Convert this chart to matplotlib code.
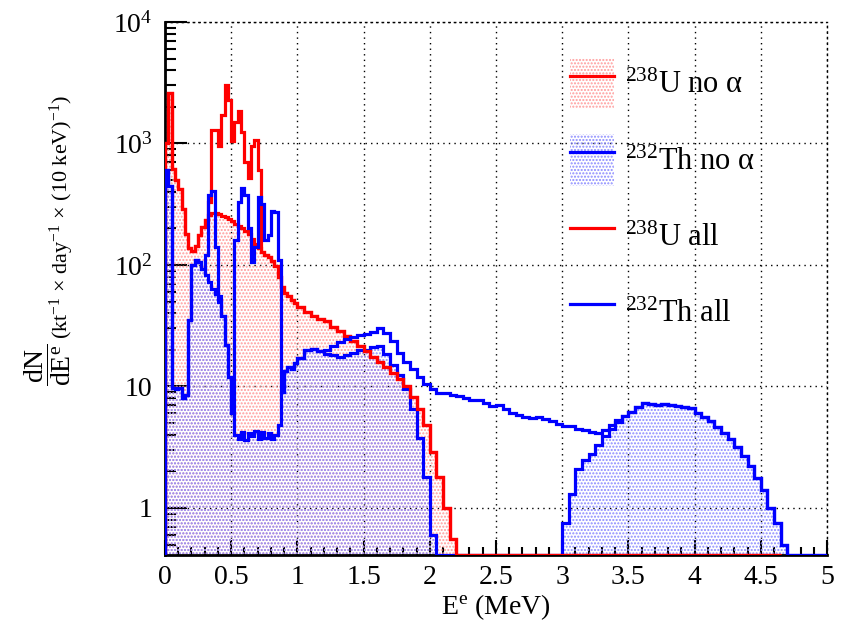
import numpy as np
import matplotlib
matplotlib.use('Agg')
import matplotlib.pyplot as plt
from matplotlib.patches import Patch
from matplotlib.lines import Line2D
from matplotlib.ticker import FixedLocator, FixedFormatter, LogLocator, MultipleLocator, NullFormatter

plt.rcParams['font.family'] = 'Liberation Serif'
plt.rcParams['mathtext.fontset'] = 'custom'
plt.rcParams['mathtext.rm'] = 'Liberation Serif'
plt.rcParams['mathtext.it'] = 'Liberation Serif:italic'
plt.rcParams['hatch.linewidth'] = 1.0

# bin edges (MeV): 25 keV bins below 1 MeV, 50 keV bins above
edges = np.concatenate([np.linspace(0.0, 1.0, 41), np.linspace(1.05, 5.0, 80)])

# 238U, 0 - 1 MeV (25 keV bins)
u_noalpha_low = [1000, 2600, 620, 500, 420, 290, 180, 137, 130, 142,
                 175, 205, 235, 258, 268, 268, 262, 255, 248, 238,
                 228, 218, 210, 200, 192, 180, 165, 150, 138, 127,
                 120, 116, 108, 98, 80, 66, 59, 55, 51, 49]
u_all_low = [1000, 2600, 620, 500, 420, 290, 180, 137, 130, 142,
             175, 205, 235, 330, 1300, 1300, 950, 1700, 3000, 2300,
             1050, 1500, 1850, 1250, 700, 520, 950, 1070, 600, 127,
             120, 116, 108, 98, 80, 66, 59, 55, 51, 49]
# 238U above 1 MeV (50 keV bins, up to 4.65 MeV) - both curves coincide
u_tail = [45, 41, 38, 36, 34.5, 31, 28.5, 26, 23.5, 21.5,
          19.5, 17.5, 16, 14.5, 13, 11.5, 10, 8.2, 6.5, 4.8,
          2.9, 1.8, 1.0, 0.55, 0, 0, 0, 0, 0, 0,
          0, 0, 0, 0, 0, 0, 0, 0, 0, 0,
          0, 0, 0, 0, 0, 0, 0, 0, 0, 0,
          0, 0, 0, 0, 0, 0, 0, 0, 0, 0,
          0, 0, 0, 0, 0, 0, 0, 0, 0, 0,
          0, 0, 0]

# 232Th, 0 - 1 MeV (25 keV bins)
th_noalpha_low = [600, 450, 9.7, 9.5, 9.8, 8.0, 8.5, 35, 100, 110,
                  105, 92, 83, 72, 64, 58, 50, 38, 22, 12,
                  6.0, 4.0, 3.7, 4.2, 3.6, 4.1, 3.9, 4.3, 3.7, 4.2,
                  3.8, 4.1, 3.7, 4.0, 4.8, 9.0, 13.5, 14.5, 14.0, 15.5]
th_all_low = [600, 450, 9.7, 9.5, 9.8, 8.0, 8.5, 35, 100, 110,
              105, 92, 120, 380, 410, 140, 55, 38, 22, 12,
              6.0, 160, 330, 430, 380, 200, 105, 140, 365, 320,
              160, 175, 280, 275, 110, 9.0, 13.5, 14.5, 14.0, 15.5]
# 232Th, 1 - 5 MeV (50 keV bins)
th_noalpha_high = [17, 20, 20.5, 19.5, 18.5, 18, 17.5, 18, 19, 20,
                   20, 21, 21.5, 18.5, 15, 12.5, 9.5, 6.5, 3.8, 1.8,
                   0.6, 0, 0, 0, 0, 0, 0, 0, 0, 0,
                   0, 0, 0, 0, 0, 0, 0, 0, 0, 0,
                   0.75, 1.3, 2.1, 2.5, 2.8, 3.3, 3.9, 4.5, 5.1, 5.7,
                   6.2, 6.8, 7.3, 7.2, 7.1, 7.2, 7.0, 6.9, 6.8, 6.6,
                   6.1, 5.6, 5.2, 4.6, 4.1, 3.7, 3.2, 2.7, 2.2, 1.75,
                   1.4, 1.0, 0.75, 0.5, 0, 0, 0, 0, 0, 0]
th_all_high = [17, 20, 20.5, 19.5, 20, 21.5, 23, 24.5, 25.5, 26.5,
               27, 28, 30, 27.5, 23.5, 19, 16, 14, 12, 10.5,
               9.5, 8.8, 8.8, 8.5, 8.4, 8.0, 7.8, 7.7, 7.3, 6.9,
               7.0, 6.5, 6.1, 5.8, 5.6, 5.5, 5.6, 5.4, 5.2, 4.9,
               4.7, 4.7, 4.5, 4.4, 4.2, 4.1, 4.4, 4.8, 5.3, 5.7,
               6.2, 6.8, 7.3, 7.2, 7.1, 7.2, 7.0, 6.9, 6.8, 6.6,
               6.1, 5.6, 5.2, 4.6, 4.1, 3.7, 3.2, 2.7, 2.2, 1.75,
               1.4, 1.0, 0.75, 0.5, 0, 0, 0, 0, 0, 0]

labels = [r'$^{238}$U no α', r'$^{232}$Th no α', r'$^{238}$U all', r'$^{232}$Th all']
y_ticks = [1, 10, 100, 1000, 10000]
y_ticklabels = ['1', '10', r'$10^{2}$', r'$10^{3}$', r'$10^{4}$']
x_ticks = [0, 0.5, 1, 1.5, 2, 2.5, 3, 3.5, 4, 4.5, 5]

YMIN, YMAX = 0.41, 1e4
RED, BLUE = '#ff0000', '#0000ff'
RED_DOT, BLUE_DOT = '#ff9a9a', '#8a8aff'

u_noalpha = np.clip(np.array(u_noalpha_low + u_tail, dtype=float), YMIN, None)
u_all = np.clip(np.array(u_all_low + u_tail, dtype=float), YMIN, None)
th_noalpha = np.clip(np.array(th_noalpha_low + th_noalpha_high, dtype=float), YMIN, None)
th_all = np.clip(np.array(th_all_low + th_all_high, dtype=float), YMIN, None)
u_edges = edges[:len(u_noalpha) + 1]

fig = plt.figure(figsize=(8.53, 6.24), dpi=100)
ax = fig.add_axes([0.1934, 0.1106, 0.7761, 0.8542])
ax.set_yscale('log')

# dotted fills (ROOT-style pattern)
ax.stairs(u_noalpha, u_edges, baseline=YMIN, fill=True, facecolor='none',
          edgecolor=RED_DOT, hatch='.....', linewidth=0, zorder=1)
ax.stairs(th_noalpha, edges, baseline=YMIN, fill=True, facecolor='none',
          edgecolor=BLUE_DOT, hatch='.....', linewidth=0, zorder=1)

lw = 2.3
ax.stairs(u_noalpha, u_edges, baseline=YMIN, color=RED, linewidth=lw, zorder=3)
ax.stairs(th_noalpha, edges, baseline=YMIN, color=BLUE, linewidth=lw, zorder=3)
ax.stairs(u_all, u_edges, baseline=YMIN, color=RED, linewidth=lw, zorder=3)
ax.stairs(th_all, edges, baseline=YMIN, color=BLUE, linewidth=lw, zorder=3)

ax.set_xlim(0, 5)
ax.set_ylim(YMIN, YMAX)

ax.xaxis.set_major_locator(FixedLocator(x_ticks))
ax.xaxis.set_major_formatter(FixedFormatter(['%g' % t for t in x_ticks]))
ax.xaxis.set_minor_locator(MultipleLocator(0.1))
ax.yaxis.set_major_locator(FixedLocator(y_ticks))
ax.yaxis.set_major_formatter(FixedFormatter(y_ticklabels))
ax.yaxis.set_minor_locator(LogLocator(base=10, subs=np.arange(2, 10)))
ax.yaxis.set_minor_formatter(NullFormatter())

ax.tick_params(axis='both', which='both', direction='in', labelsize=20, width=1.5)
ax.tick_params(axis='y', which='major', length=16, pad=9)
ax.tick_params(axis='y', which='minor', length=8)
ax.tick_params(axis='x', which='major', length=11, pad=7)
ax.tick_params(axis='x', which='minor', length=5.5)

ax.grid(True, which='major', linestyle=(0, (1, 3)), color='black', linewidth=1.0)
ax.set_axisbelow(True)
for s in ['left', 'bottom']:
    ax.spines[s].set_linewidth(2.0)
for s in ['top', 'right']:
    ax.spines[s].set_linestyle((0, (1, 3)))
    ax.spines[s].set_linewidth(1.0)

fig.text(0.5815, 1 - 607 / 624, r'E$^{\mathrm{e}}$ (MeV)', fontsize=20, ha='center', va='center')
# y title: fraction + units, rotated
fig.text(0.073, 1 - 95 / 624, r'(kt$^{-1}$ × day$^{-1}$ × (10 keV)$^{-1}$)',
         fontsize=16, rotation=90, ha='center', va='top')
fig.text(0.056, 1 - 365 / 624, r'$\dfrac{\mathrm{dN}}{\mathrm{dE}^{\mathrm{e}}}$',
         fontsize=20, rotation=90, ha='center', va='center')

handles = [
    (Patch(facecolor='none', edgecolor=RED_DOT, hatch='.....', linewidth=0), Line2D([], [], color=RED, lw=lw)),
    (Patch(facecolor='none', edgecolor=BLUE_DOT, hatch='.....', linewidth=0), Line2D([], [], color=BLUE, lw=lw)),
    Line2D([], [], color=RED, lw=lw),
    Line2D([], [], color=BLUE, lw=lw),
]
ax.legend(handles, labels, loc='upper left', bbox_to_anchor=(0.612, 0.932), frameon=False,
          fontsize=22, handlelength=1.45, handleheight=2.2, handletextpad=0.35,
          labelspacing=0.82, borderpad=0, borderaxespad=0)

fig.savefig('out.png', dpi=100)
